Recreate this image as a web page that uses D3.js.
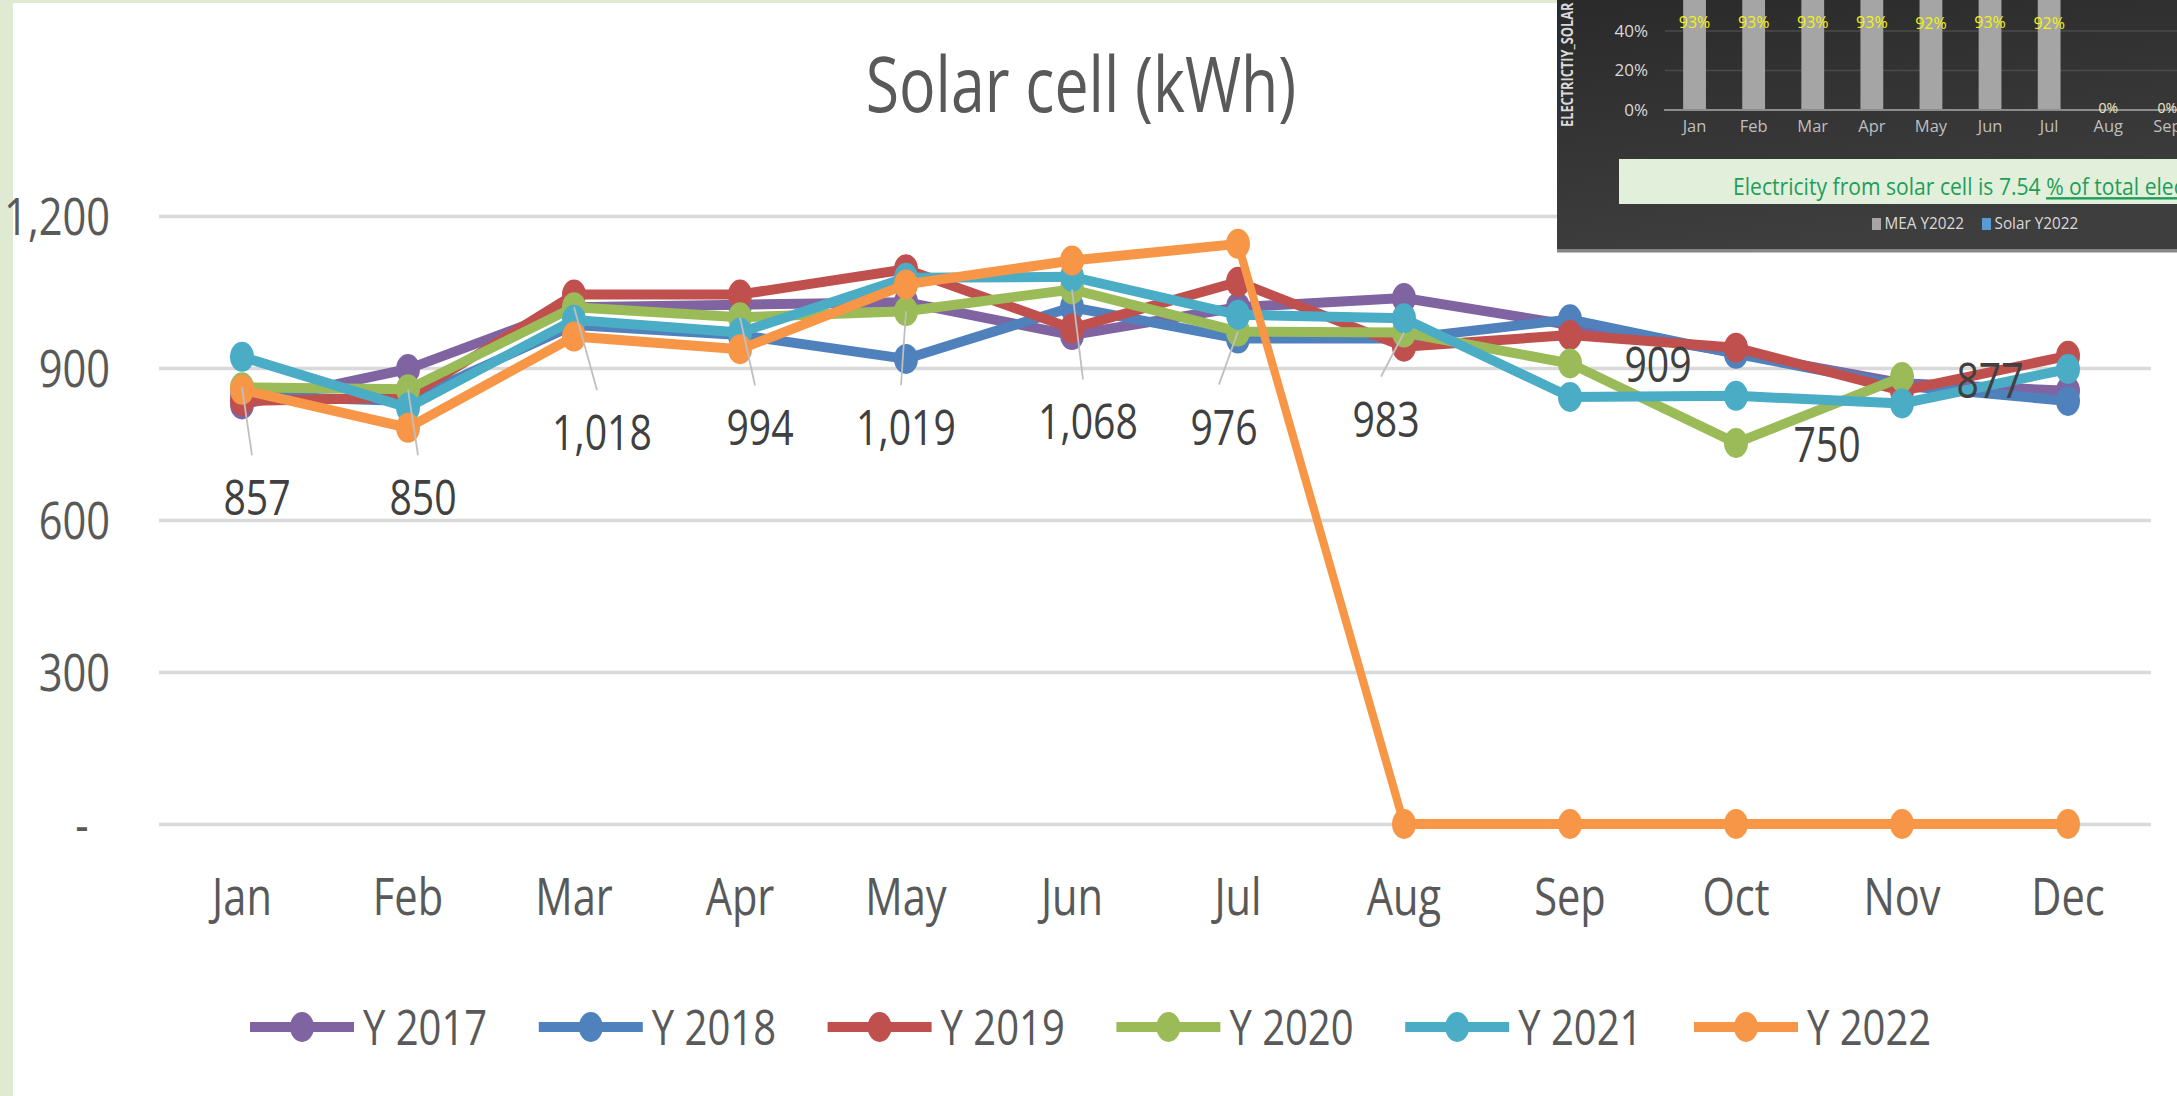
<!DOCTYPE html>
<html>
<head>
<meta charset="utf-8">
<script src="https://cdn.jsdelivr.net/npm/d3@7"></script>
<style>
html,body{margin:0;padding:0;background:#E0E9D1;overflow:hidden;}
svg{display:block;}
text{font-family:"Open Sans","Noto Sans",sans-serif;}
</style>
</head>
<body>
<svg id="c" width="2177" height="1096"></svg>
<script>
// ---------- DATA ----------
const months = ["Jan","Feb","Mar","Apr","May","Jun","Jul","Aug","Sep","Oct","Nov","Dec"];
const y2017 = [828, 898, 1020, 1025, 1030, 965, 1020, 1038, 985, 930, 870, 855];
const y2018 = [845, 835, 985, 965, 918, 1020, 958, 958, 996, 928, 865, 835];
const y2019 = [835, 842, 1045, 1045, 1095, 978, 1070, 942, 965, 940, 855, 924];
const y2020 = [862, 858, 1020, 1000, 1012, 1055, 972, 970, 909, 752, 882, null];
const y2021 = [922, 822, 995, 970, 1078, 1080, 1005, 998, 843, 845, 830, 898];
const y2022 = [857, 782, 962, 937, 1065, 1112, 1145, 0, 0, 0, 0, 0];
const seriesNames = ["Y 2017","Y 2018","Y 2019","Y 2020","Y 2021","Y 2022"];
const seriesColors = ["#8064A2","#4F81BD","#C0504D","#9BBB59","#4BACC6","#F79646"];
const dataLabels2020 = [857, 850, 1018, 994, 1019, 1068, 976, 983, 909, 750, 877, null];
const yTicks = [0, 300, 600, 900, 1200];
const titleText = "Solar cell (kWh)";

// inset (overlapping screenshot of another chart)
const insetMonths = months;
const mea2022 = [93, 93, 93, 93, 92, 93, 92, 0, 0, 0, 0, 0];
const insetTicks = [0, 20, 40, 60, 80, 100];
const insetLegend = ["MEA Y2022", "Solar Y2022"];
const insetLegendColors = ["#A5A5A5", "#5B9BD5"];
const insetNote = "Electricity from solar cell is 7.54 ";
const insetNoteU = "% of total electricity";
const insetAxisTitle = "ELECTRICTIY_SOLAR";

const series = [y2017, y2018, y2019, y2020, y2021, y2022];

// ---------- LAYOUT ----------
const SX = 0.8;               // horizontal compression of the original picture
const X = px => px / SX;
const svg = d3.select("#c");
svg.append("rect").attr("x", 13).attr("y", 3).attr("width", 2164).attr("height", 1093).attr("fill", "#fff");

const g = svg.append("g").attr("transform", `scale(${SX},1)`);

const x = d3.scaleBand().domain(months).range([X(159), X(2151)]).padding(0);
const y = d3.scaleLinear().domain([0, 1200]).range([824, 216]);
const cx = m => x(m) + x.bandwidth() / 2;

// Title
g.append("text").attr("x", X(1081)).attr("y", 112).attr("text-anchor", "middle")
  .attr("font-size", 76).attr("fill", "#595959").text(titleText);

// Y axis + gridlines
const ya = g.append("g").attr("transform", `translate(${X(159)},0)`)
  .call(d3.axisLeft(y).tickValues(yTicks).tickSize(-(X(2151) - X(159))).tickPadding(X(49))
    .tickFormat(d => d === 0 ? "-" : d3.format(",")(d)));
ya.select(".domain").remove();
ya.selectAll("line").attr("stroke", "#D9D9D9").attr("stroke-width", 3.5);
ya.selectAll("text").attr("font-size", 52).attr("fill", "#595959").attr("dy", "0.36em")
  .attr("font-family", "\"Open Sans\",sans-serif");
ya.selectAll(".tick text").filter(d => d === 0).attr("text-anchor", "middle").attr("x", -X(77));

// X axis
const xa = g.append("g").attr("transform", "translate(0,824)")
  .call(d3.axisBottom(x).tickSize(0).tickPadding(0));
xa.select(".domain").remove();
xa.selectAll("text").attr("y", 91).attr("dy", 0).attr("font-size", 52).attr("fill", "#595959")
  .attr("font-family", "\"Open Sans\",sans-serif");

// Series
const line = d3.line().defined(v => v != null).x((v, j) => cx(months[j])).y(v => y(v));
series.forEach((vals, i) => {
  const sg = g.append("g");
  sg.append("path").datum(vals).attr("d", line).attr("fill", "none")
    .attr("stroke", seriesColors[i]).attr("stroke-width", 10)
    .attr("stroke-linejoin", "round").attr("stroke-linecap", "round");
  sg.selectAll("circle").data(vals.map((v, j) => ({v, m: months[j]})).filter(d => d.v != null))
    .join("circle").attr("cx", d => cx(d.m)).attr("cy", d => y(d.v)).attr("r", 15)
    .attr("fill", seriesColors[i]);
});

// Data labels (series Y 2020) with leader lines
const labelOffsets = [[15,128],[15,126],[28,143],[20,128],[0,134],[16,150],[-14,113],[-18,104],[88,19],[91,19],[88,21],[0,0]];
const lab = months.map((m, j) => ({m, v: y2020[j], t: dataLabels2020[j], off: labelOffsets[j]}))
  .filter(d => d.t != null && d.v != null);
g.selectAll(".leader").data(lab.filter(d => d.off[1] > 60)).join("line").attr("class", "leader")
  .attr("x1", d => cx(d.m)).attr("y1", d => y(d.v))
  .attr("x2", d => cx(d.m) + X(d.off[0] - 5)).attr("y2", d => y(d.v) + d.off[1] - 60)
  .attr("stroke", "#BFBFBF").attr("stroke-width", 2.2);
g.selectAll(".dlab").data(lab).join("text").attr("class", "dlab")
  .attr("x", d => cx(d.m) + X(d.off[0])).attr("y", d => y(d.v) + d.off[1])
  .attr("text-anchor", "middle").attr("font-size", 49).attr("fill", "#404040")
  .text(d => d3.format(",")(d.t));

// Legend
seriesNames.forEach((name, i) => {
  const x0 = 250 + i * 288.8;
  const lg = g.append("g");
  lg.append("line").attr("x1", X(x0)).attr("x2", X(x0 + 104)).attr("y1", 1027).attr("y2", 1027)
    .attr("stroke", seriesColors[i]).attr("stroke-width", 10);
  lg.append("circle").attr("cx", X(x0 + 52)).attr("cy", 1027).attr("r", 15).attr("fill", seriesColors[i]);
  lg.append("text").attr("x", X(x0 + 113)).attr("y", 1045).attr("font-size", 50).attr("fill", "#595959").text(name);
});

// ---------- INSET PANEL ----------
const defs = svg.append("defs");
defs.append("clipPath").attr("id", "insetClip").append("rect")
  .attr("x", 1557).attr("y", 0).attr("width", 620).attr("height", 253);
const grad = defs.append("linearGradient").attr("id", "insetBg").attr("x1", 0).attr("y1", 0).attr("x2", 0.3).attr("y2", 1);
grad.append("stop").attr("offset", "0%").attr("stop-color", "#2A2A2A");
grad.append("stop").attr("offset", "100%").attr("stop-color", "#3E3E3E");

const ig = svg.append("g").attr("clip-path", "url(#insetClip)");
ig.append("rect").attr("x", 1557).attr("y", 0).attr("width", 620).attr("height", 250).attr("fill", "url(#insetBg)");
ig.append("rect").attr("x", 1557).attr("y", 249).attr("width", 620).attr("height", 3.5).attr("fill", "#858585");

const xi = d3.scaleBand().domain(insetMonths).range([1665, 1665 + 12 * 59.1]).padding(0);
const yi = d3.scaleLinear().domain([0, 100]).range([110, 110 - 197.5]);
const icx = m => xi(m) + xi.bandwidth() / 2;
const onPanel = m => icx(m) < 2190;
const visTicks = insetTicks.filter(t => yi(t) > 8);

ig.selectAll(".igrid").data(insetTicks.filter(t => t > 0)).join("line").attr("class", "igrid")
  .attr("x1", 1665).attr("x2", 2177).attr("y1", d => yi(d)).attr("y2", d => yi(d))
  .attr("stroke", "#4B4B4B").attr("stroke-width", 1.5);
ig.selectAll(".itick").data(visTicks).join("text").attr("class", "itick")
  .attr("x", 1648).attr("y", d => yi(d)).attr("dy", "0.35em").attr("text-anchor", "end")
  .attr("font-size", 17).attr("fill", "#D9D9D9").text(d => d + "%");

const barData = insetMonths.map((m, j) => ({m, v: mea2022[j]}));
ig.selectAll(".ibar").data(barData.filter(d => d.v > 0)).join("rect").attr("class", "ibar")
  .attr("x", d => icx(d.m) - 11.4).attr("width", 22.8)
  .attr("y", d => yi(d.v)).attr("height", d => yi(0) - yi(d.v)).attr("fill", "#A5A5A5");
ig.append("line").attr("x1", 1664).attr("x2", 2177).attr("y1", yi(0)).attr("y2", yi(0))
  .attr("stroke", "#8C8C8C").attr("stroke-width", 2);
ig.selectAll(".ipct").data(barData.filter(d => onPanel(d.m))).join("text").attr("class", "ipct")
  .attr("x", d => icx(d.m)).attr("y", d => d.v > 0 ? yi(d.v / 2) + 10 : 113)
  .attr("text-anchor", "middle").attr("font-size", d => d.v > 0 ? 16 : 14)
  .attr("fill", d => d.v > 0 ? "#F2F20F" : "#EEE6C6").text(d => d.v + "%");
ig.selectAll(".imonth").data(insetMonths.filter(onPanel)).join("text").attr("class", "imonth")
  .attr("x", d => icx(d)).attr("y", 132).attr("text-anchor", "middle")
  .attr("font-size", 16.5).attr("fill", "#BFBFBF").text(d => d);
ig.append("text").attr("transform", "translate(1572.5,127) rotate(-90) scale(0.8,1)")
  .attr("font-size", 16).attr("font-weight", "bold").attr("fill", "#D9D9D9").text(insetAxisTitle);

// note box
ig.append("rect").attr("x", 1619).attr("y", 159).attr("width", 600).attr("height", 45).attr("fill", "#E2EFDA");
const note = ig.append("text").attr("transform", "translate(1733,195) scale(0.88,1)")
  .attr("font-size", 24).attr("fill", "#1E9E5A");
note.append("tspan").text(insetNote);
note.append("tspan").attr("text-decoration", "underline").style("text-decoration", "underline").text(insetNoteU);

// inset legend
const legX = [1872, 1982];
insetLegend.forEach((t, i) => {
  ig.append("rect").attr("x", legX[i]).attr("y", 218).attr("width", 9).attr("height", 12).attr("fill", insetLegendColors[i]);
  ig.append("text").attr("transform", `translate(${legX[i] + 12.5},229) scale(0.9,1)`)
    .attr("font-size", 17).attr("fill", "#D9D9D9").text(t);
});
</script>
</body>
</html>
